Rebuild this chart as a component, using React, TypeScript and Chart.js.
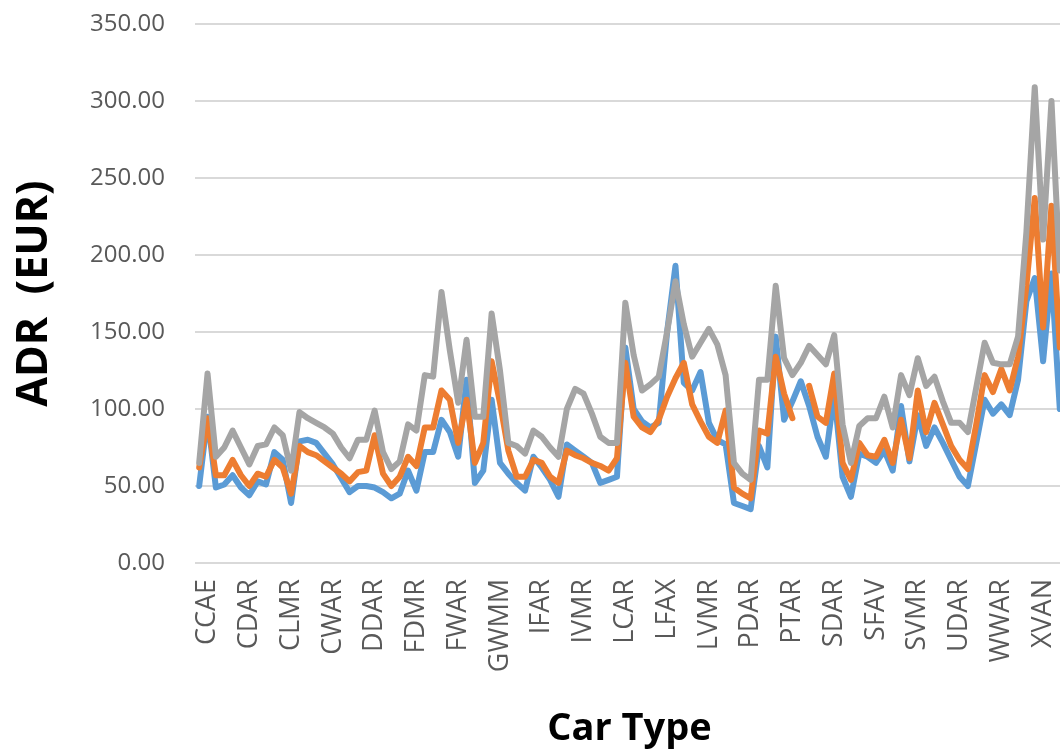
import { useEffect, useRef } from 'react';
import { Chart, registerables } from 'chart.js';

Chart.register(...registerables);

// Labels shown on the category axis (every 5th category carries a label)
const tickLabels = [
  'CCAE', 'CDAR', 'CLMR', 'CWAR', 'DDAR', 'FDMR', 'FWAR', 'GWMM', 'IFAR', 'IVMR',
  'LCAR', 'LFAX', 'LVMR', 'PDAR', 'PTAR', 'SDAR', 'SFAV', 'SVMR', 'UDAR', 'WWAR', 'XVAN',
];
const categoryCount = 104;
const categories: string[] = Array.from({ length: categoryCount }, (_, i) =>
  i % 5 === 1 ? tickLabels[(i - 1) / 5] : ''
);

const yTicks = [0, 50, 100, 150, 200, 250, 300, 350];

const seriesBlue = [
  50, 95, 49, 51, 57, 49, 44, 53, 51, 72,
  67, 39, 79, 80, 78, 71, 64, 55, 46, 50,
  50, 49, 46, 42, 45, 60, 47, 72, 72, 93,
  85, 69, 119, 52, 60, 106, 65, 58, 52, 47,
  69, 62, 54, 43, 77, 73, 69, 65, 52, 54,
  56, 140, 100, 92, 88, 91, 150, 193, 117, 112,
  124, 91, 80, 77, 39, 37, 35, 76, 62, 147,
  93, 105, 118, 102, 82, 69, 110, 56, 43, 71,
  69, 65, 73, 60, 102, 66, 96, 76, 88, 78,
  67, 56, 50, 78, 106, 97, 103, 96, 119, 170,
  185, 131, 188, 100,
];

const seriesOrange: (number | null)[] = [
  62, 94, 57, 57, 67, 57, 50, 58, 56, 67,
  62, 45, 76, 72, 70, 66, 62, 58, 53, 59,
  60, 83, 58, 50, 56, 69, 63, 88, 88, 112,
  106, 78, 106, 65, 78, 131, 104, 73, 56, 56,
  67, 65, 56, 52, 73, 70, 68, 65, 63, 60,
  68, 130, 95, 88, 85, 93, 108, 120, 130, 103,
  92, 82, 78, 99, 49, 45, 42, 86, 84, 134,
  110, 94, null, 115, 95, 91, 123, 65, 54, 78,
  70, 69, 80, 65, 93, 68, 112, 85, 104, 90,
  76, 67, 61, 90, 122, 111, 126, 112, 134, 180,
  237, 153, 232, 140,
];

const seriesGray = [
  65, 123, 69, 75, 86, 75, 64, 76, 77, 88,
  83, 60, 98, 94, 91, 88, 84, 75, 68, 80,
  80, 99, 72, 61, 66, 90, 86, 122, 121, 176,
  138, 104, 145, 95, 95, 162, 125, 78, 76, 71,
  86, 82, 75, 69, 100, 113, 110, 97, 82, 78,
  78, 169, 135, 112, 116, 121, 150, 183, 155, 134,
  143, 152, 142, 122, 65, 58, 54, 119, 119, 180,
  133, 122, 130, 141, 135, 129, 148, 90, 65, 89,
  94, 94, 108, 88, 122, 109, 133, 115, 121, 105,
  91, 91, 85, 114, 143, 130, 129, 129, 147, 215,
  309, 210, 300, 190,
];

const FONT = "'Open Sans', 'DejaVu Sans', sans-serif";

export default function App() {
  const canvasRef = useRef<HTMLCanvasElement | null>(null);

  useEffect(() => {
    const canvas = canvasRef.current;
    if (!canvas) return;
    const lineCommon = {
      borderWidth: 6,
      pointRadius: 0,
      pointHoverRadius: 0,
      tension: 0,
      borderJoinStyle: 'round' as const,
      borderCapStyle: 'round' as const,
      spanGaps: false,
      fill: false,
    };
    const chart = new Chart(canvas, {
      type: 'line',
      data: {
        labels: categories,
        datasets: [
          { label: 'Series 1', data: seriesBlue, borderColor: '#5B9BD5', backgroundColor: '#5B9BD5', order: 2, ...lineCommon },
          { label: 'Series 2', data: seriesOrange, borderColor: '#ED7D31', backgroundColor: '#ED7D31', order: 1, ...lineCommon },
          { label: 'Series 3', data: seriesGray, borderColor: '#A5A5A5', backgroundColor: '#A5A5A5', order: 0, ...lineCommon },
        ],
      },
      options: {
        responsive: false,
        animation: false,
        layout: { padding: { top: 24, left: 0, right: 0, bottom: 0 } },
        plugins: {
          legend: { display: false },
          tooltip: { enabled: false },
          title: { display: false },
        },
        scales: {
          x: {
            type: 'category',
            offset: true,
            grid: { display: false, drawTicks: false },
            border: { display: false },
            ticks: {
              autoSkip: false,
              minRotation: 90,
              maxRotation: 90,
              padding: 16,
              color: '#595959',
              font: { family: FONT, size: 27 },
              callback: function (this: any, value: any) {
                return this.getLabelForValue(value);
              },
            },
            title: {
              display: true,
              text: 'Car Type',
              color: '#000000',
              font: { family: FONT, size: 38, weight: 'bold', lineHeight: 1 },
              padding: { top: 0, bottom: 1 },
            },
            afterFit: (scale: any) => {
              scale.height = 186;
              scale.paddingLeft = 0;
              scale.paddingRight = 0;
            },
          },
          y: {
            min: 0,
            max: 350,
            afterBuildTicks: (scale: any) => {
              scale.ticks = yTicks.map((v) => ({ value: v }));
            },
            grid: { color: '#D9D9D9', lineWidth: 2, drawTicks: false },
            border: { display: false },
            ticks: {
              padding: 30,
              color: '#595959',
              font: { family: FONT, size: 24 },
              callback: (value: any) => Number(value).toFixed(2),
            },
            title: {
              display: true,
              text: 'ADR  (EUR)',
              color: '#000000',
              font: { family: FONT, size: 43, weight: 'bold', lineHeight: 1.2 },
              padding: { top: 9, bottom: 0 },
            },
            afterFit: (scale: any) => {
              scale.width = 195;
              scale.paddingTop = 0;
              scale.paddingBottom = 0;
            },
          },
        },
      },
    });
    return () => chart.destroy();
  }, []);

  return (
    <div
      style={{
        position: 'fixed',
        left: 0,
        top: 0,
        width: 1060,
        height: 749,
        overflow: 'hidden',
        background: '#ffffff',
      }}
    >
      <canvas ref={canvasRef} width={1064} height={749} style={{ display: 'block', width: 1064, height: 749 }} />
    </div>
  );
}
